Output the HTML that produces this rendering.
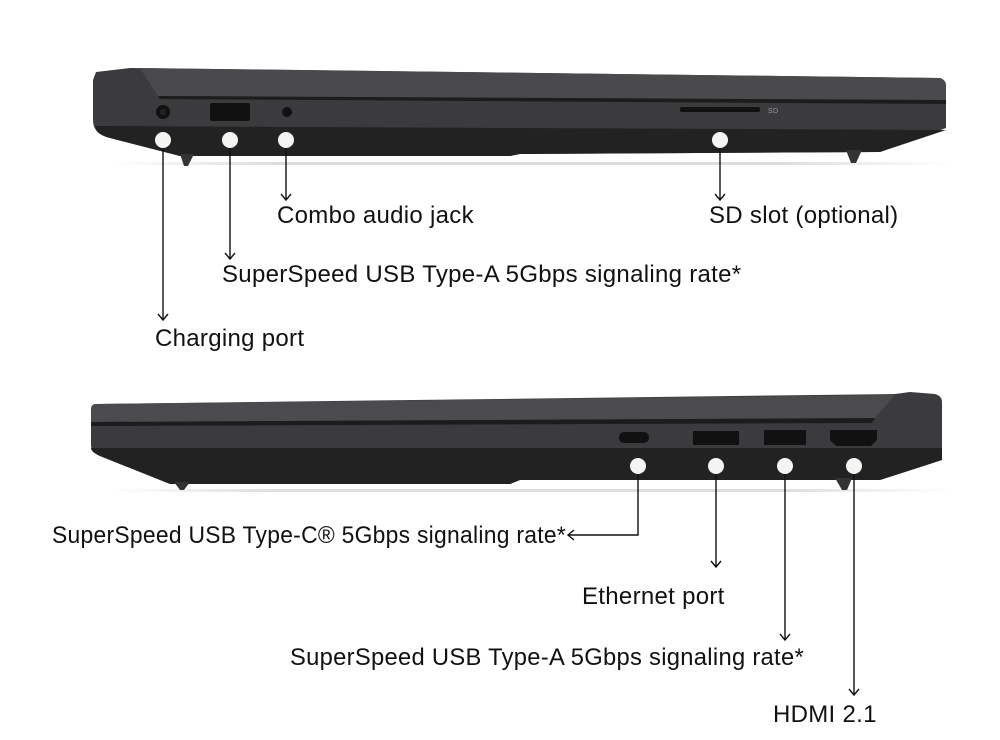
<!DOCTYPE html>
<html><head><style>
body{margin:0;background:#fff;width:1000px;height:735px;overflow:hidden}
text{font-family:"Liberation Sans",sans-serif;font-size:24px;letter-spacing:0.3px;fill:#111}
</style></head><body>
<svg width="1000" height="735" viewBox="0 0 1000 735">
<defs>
<marker id="a" markerWidth="12" markerHeight="12" refX="10" refY="6" orient="auto" markerUnits="userSpaceOnUse"><path d="M4,1 L10,6 L4,11" fill="none" stroke="#111" stroke-width="1.4"/></marker>
<linearGradient id="sh" x1="0" x2="1"><stop offset="0" stop-color="#fff"/><stop offset=".2" stop-color="#ddd"/><stop offset=".8" stop-color="#ddd"/><stop offset="1" stop-color="#fff"/></linearGradient>
</defs>
<!-- TOP LAPTOP -->
<rect x="110" y="162" width="840" height="3" fill="url(#sh)"/>
<path d="M96,72 L130,68 L940,78 Q946,80 946,86 L946,128 L880,152 L520,154 L510,156 L180,156 L110,138 Q93,134 93,120 L93,80 Z" fill="#3b3b3d"/>
<path d="M140,68 L940,78 Q946,80 946,86 L946,100 L158,96 Z" fill="#4a4a4c"/>
<path d="M158,96 L946,100 L946,104 L160,99 Z" fill="#1c1c1d"/>
<path d="M95,126 L946,130 L880,152 L520,154 L510,156 L180,156 L110,138 Q95,134 95,126Z" fill="#222"/>
<path d="M180,154 L194,154 L188,166 L184,166 Z" fill="#333"/>
<path d="M846,150 L862,150 L856,163 L851,163 Z" fill="#333"/>
<circle cx="163" cy="112" r="7" fill="#111"/><circle cx="163" cy="112" r="3" fill="#222"/>
<rect x="210" y="103" width="40" height="18" rx="2" fill="#111"/>
<circle cx="287" cy="112" r="5" fill="#111"/>
<rect x="680" y="107" width="80" height="5" rx="2" fill="#111"/>
<text x="768" y="113" style="font-size:7px;fill:#999">SD</text>
<g fill="#f4f4f2"><circle cx="163" cy="140" r="8"/><circle cx="230" cy="140" r="8"/><circle cx="286" cy="140" r="8"/><circle cx="720" cy="140" r="8"/></g>
<g stroke="#111" stroke-width="1.4" fill="none">
<line x1="163" y1="148" x2="163" y2="320" marker-end="url(#a)"/>
<line x1="230" y1="148" x2="230" y2="259" marker-end="url(#a)"/>
<line x1="286" y1="148" x2="286" y2="200" marker-end="url(#a)"/>
<line x1="720" y1="148" x2="720" y2="200" marker-end="url(#a)"/>
</g>
<text x="277" y="223">Combo audio jack</text>
<text x="709" y="223">SD slot (optional)</text>
<text x="222" y="282">SuperSpeed USB Type-A 5Gbps signaling rate*</text>
<text x="155" y="346">Charging port</text>
<!-- BOTTOM LAPTOP -->
<rect x="110" y="489" width="840" height="3" fill="url(#sh)"/>
<path d="M96,404 L895,394 L910,392 L935,394 Q942,396 942,402 L942,460 L880,480 L520,480 L510,484 L170,484 L100,456 Q91,452 91,445 L91,410 Q91,404 96,404Z" fill="#3b3b3d"/>
<path d="M96,404 L895,395 L875,418 L91,422 L91,410 Q91,404 96,404Z" fill="#4b4b4d"/>
<path d="M91,422 L875,418 L872,423 L91,426Z" fill="#1c1c1d"/>
<path d="M91,448 L942,448 L942,460 L880,480 L520,480 L510,484 L170,484 L100,456 Q91,452 91,448Z" fill="#222"/>
<path d="M174,482 L190,482 L184,490 L180,490Z" fill="#333"/>
<path d="M835,478 L852,478 L847,490 L842,490Z" fill="#333"/>
<rect x="619" y="432" width="30" height="11" rx="5" fill="#111"/>
<rect x="693" y="431" width="46" height="14" fill="#111"/>
<rect x="764" y="430" width="42" height="15" fill="#111"/>
<path d="M830,430 L877,430 L877,440 L871,446 L836,446 L830,440Z" fill="#111"/>
<g fill="#f4f4f2"><circle cx="638" cy="466" r="8"/><circle cx="716" cy="466" r="8"/><circle cx="785" cy="466" r="8"/><circle cx="854" cy="466" r="8"/></g>
<g stroke="#111" stroke-width="1.4" fill="none">
<polyline points="638,474 638,535 568,535" marker-end="url(#a)"/>
<line x1="716" y1="474" x2="716" y2="567" marker-end="url(#a)"/>
<line x1="785" y1="474" x2="785" y2="640" marker-end="url(#a)"/>
<line x1="854" y1="474" x2="854" y2="695" marker-end="url(#a)"/>
</g>
<text x="52" y="543" textLength="514" lengthAdjust="spacingAndGlyphs">SuperSpeed USB Type-C® 5Gbps signaling rate*</text>
<text x="582" y="604">Ethernet port</text>
<text x="290" y="665" textLength="514" lengthAdjust="spacingAndGlyphs">SuperSpeed USB Type-A 5Gbps signaling rate*</text>
<text x="773" y="722">HDMI 2.1</text>
</svg>
</body></html>
